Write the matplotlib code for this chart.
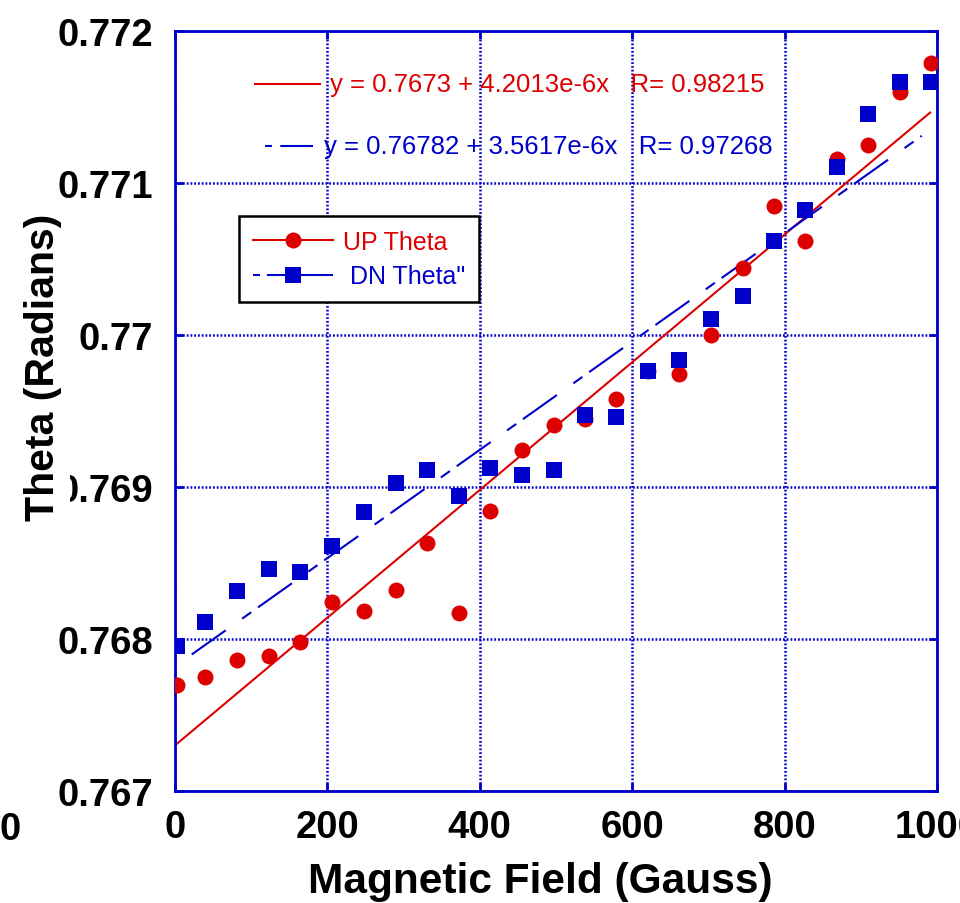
import numpy as np
import matplotlib
matplotlib.use('Agg')
import matplotlib.pyplot as plt
from matplotlib.lines import Line2D

plt.rcParams['font.family'] = ['Liberation Sans', 'DejaVu Sans']
plt.rcParams['lines.scale_dashes'] = False

# Data
field = [3, 40, 81, 123, 164, 206, 248, 290, 331, 373, 414, 455, 497,
         538, 579, 621, 662, 703, 745, 786, 827, 869, 910, 951, 992]
up_theta = [0.767697, 0.767750, 0.767862, 0.767888, 0.767980, 0.768243, 0.768184,
            0.768322, 0.768632, 0.768171, 0.768842, 0.769243, 0.769408, 0.769447,
            0.769579, 0.769763, 0.769743, 0.770000, 0.770441, 0.770849, 0.770618,
            0.771158, 0.771250, 0.771599, 0.771789]
dn_theta = [0.767954, 0.768112, 0.768316, 0.768461, 0.768441, 0.768612, 0.768836,
            0.769026, 0.769112, 0.768941, 0.769125, 0.769079, 0.769112, 0.769474,
            0.769461, 0.769763, 0.769836, 0.770105, 0.770257, 0.770618, 0.770822,
            0.771105, 0.771454, 0.771664, 0.771664]

# Linear fits as printed on the chart
up_fit = (0.7673, 4.2013e-6, 0.98215)
dn_fit = (0.76782, 3.5617e-6, 0.97268)
up_fit_range = [0, 991]
dn_fit_range = [22, 980]

red = '#dd0000'
blue = '#0000cc'
blue_dash = (0, (30, 14.5, 8, 6))

fig = plt.figure(figsize=(9.6, 9.04), dpi=100)
ax = fig.add_axes([175/960, 1 - 792/904, 762/960, 760/904])

# fit lines
xr = np.array(up_fit_range)
ax.plot(xr, up_fit[0] + up_fit[1]*xr, color=red, lw=1.5, zorder=2)
xb = np.array(dn_fit_range)
ax.plot(xb, dn_fit[0] + dn_fit[1]*xb, color=blue, lw=1.5, linestyle=blue_dash, zorder=2)

# data points
ax.plot(field, up_theta, 'o', color=red, markersize=11.5, markeredgewidth=0, zorder=3)
ax.plot(field, dn_theta, 's', color=blue, markersize=12, markeredgewidth=0, zorder=4)

ax.set_xlim(0, 1000)
ax.set_ylim(0.767, 0.772)
ax.set_xticks([0, 200, 400, 600, 800, 1000])
ax.set_yticks([0.767, 0.768, 0.769, 0.770, 0.771, 0.772])
ax.set_yticklabels(['0.767', '0.768', '0.769', '0.77', '0.771', '0.772'])

ax.grid(True, color=blue, linestyle=(0, (1.3, 1.4)), linewidth=1.8)
for s in ax.spines.values():
    s.set_color(blue)
    s.set_linewidth(2)
ax.tick_params(direction='in', length=6, width=2, color=blue, top=True, right=True,
               labelsize=27.5, labelcolor='black')
ax.tick_params(axis='y', pad=16)
ax.tick_params(axis='x', pad=13)
for lab in ax.get_xticklabels() + ax.get_yticklabels():
    lab.set_fontweight('bold')

ax.set_xlabel('Magnetic Field (Gauss)', fontsize=30.5, fontweight='bold')
ax.xaxis.set_label_coords(0.48, -(862 - 792)/760)
ax.set_ylabel('Theta (Radians)', fontsize=29.5, fontweight='bold',
              bbox=dict(facecolor='white', edgecolor='none', pad=6))
ax.yaxis.set_label_coords((62 - 175)/762, (792 - 367)/760)

# fit equations
ax.plot([0.105, 0.19], [0.930, 0.930], transform=ax.transAxes, color=red, lw=1.5)
ax.text(0.2034, 0.930, f'y = {up_fit[0]} + {up_fit[1]:.4e}x'.replace('e-06', 'e-6') + f'   R= {up_fit[2]}',
        transform=ax.transAxes, color=red, fontsize=18.5, va='center', ha='left')
ax.plot([0.118, 0.181], [0.8487, 0.8487], transform=ax.transAxes, color=blue, lw=1.5,
        linestyle=(0, (5, 6, 30, 10)))
ax.text(0.1955, 0.8487, f'y = {dn_fit[0]} + {dn_fit[1]:.4e}x'.replace('e-06', 'e-6') + f'   R= {dn_fit[2]}',
        transform=ax.transAxes, color=blue, fontsize=18.5, va='center', ha='left')

# legend
handles = [Line2D([], [], color=red, marker='o', markersize=11.5, markeredgewidth=0, lw=1.5),
           Line2D([], [], color=blue, marker='s', markersize=12, markeredgewidth=0, lw=1.5,
                  linestyle=(0, (5, 5, 60, 5)))]
leg = ax.legend(handles, ['UP Theta', ' DN Theta"'], loc='upper left',
                bbox_to_anchor=((239 - 175)/762, (792 - 217)/760), borderaxespad=0,
                fontsize=18, labelcolor=[red, blue], fancybox=False, framealpha=1,
                edgecolor='black', borderpad=0.55, handlelength=3.2, handletextpad=0.4,
                labelspacing=0.42)
leg.get_frame().set_linewidth(1.8)

# stray clipped label at far left
fig.text(10/960, 1 - 830/904, '0', fontsize=27.5, fontweight='bold', ha='center', va='center')

fig.savefig('out.png', dpi=100)
